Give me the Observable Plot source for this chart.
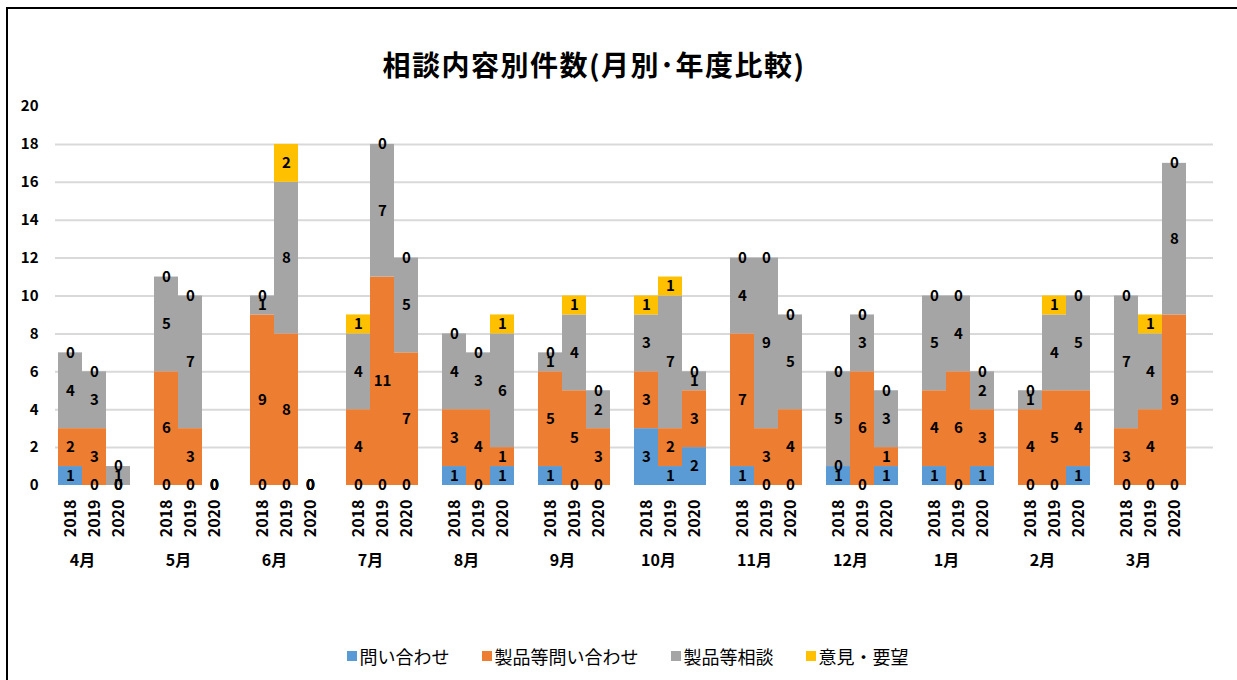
<!DOCTYPE html>
<html><head><meta charset="utf-8">
<script src="https://cdn.jsdelivr.net/npm/d3@7"></script>
<script src="https://cdn.jsdelivr.net/npm/@observablehq/plot@0.6"></script>
<style>
body{margin:0;background:#fff;}
#wrap{position:relative;width:1237px;height:680px;overflow:hidden;font-family:"Noto Sans CJK JP","Noto Sans",sans-serif;background:#fff;}
#frame{position:absolute;left:6px;top:7px;width:1300px;height:800px;border-left:2px solid #000;border-top:2px solid #000;pointer-events:none;}
#title{height:90px;box-sizing:border-box;padding-top:46px;width:1188px;text-align:center;font-size:28px;line-height:36px;font-weight:bold;letter-spacing:1.5px;color:#000;}
#chart svg{display:block;}
#legend{height:90px;box-sizing:border-box;padding-top:42px;width:1255px;display:flex;justify-content:center;align-items:center;font-size:18px;line-height:22px;color:#000;}
.item{display:flex;align-items:center;margin:0 16px;}
.sw{width:10px;height:10px;margin-right:3px;}
</style>
</head><body>
<div id="wrap">
<div id="title">相談内容別件数(月別･年度比較)</div>
<div id="chart"></div>
<div id="legend"></div>
<div id="frame"></div>
</div>
<script>
const months = ["4月","5月","6月","7月","8月","9月","10月","11月","12月","1月","2月","3月"];
const years = ["2018","2019","2020"];
const categories = ["問い合わせ","製品等問い合わせ","製品等相談","意見・要望"];
const colors = ["#5B9BD5","#ED7D31","#A5A5A5","#FFC000"];
// values per month: [2018, 2019, 2020]
const inquiry = [
  [1,0,0],[0,0,0],[0,0,0],[0,0,0],[1,0,1],[1,0,0],
  [3,1,2],[1,0,0],[1,0,1],[1,0,1],[0,0,1],[0,0,0]];
const productInquiry = [
  [2,3,0],[6,3,0],[9,8,0],[4,11,7],[3,4,1],[5,5,3],
  [3,2,3],[7,3,4],[0,6,1],[4,6,3],[4,5,4],[3,4,9]];
const productConsult = [
  [4,3,1],[5,7,0],[1,8,0],[4,7,5],[4,3,6],[1,4,2],
  [3,7,1],[4,9,5],[5,3,3],[5,4,2],[1,4,5],[7,4,8]];
const opinion = [
  [0,0,0],[0,0,0],[0,2,0],[1,0,0],[0,0,1],[0,1,0],
  [1,1,0],[0,0,0],[0,0,0],[0,0,0],[0,1,0],[0,1,0]];
const yTicks = [0,2,4,6,8,10,12,14,16,18,20];

const series = [inquiry, productInquiry, productConsult, opinion];
const key = (m, y) => m + "|" + y;
const xDomain = months.flatMap(m => [...years.map(y => key(m, y)), key(m, "gap")]);
const data = [];
categories.forEach((c, ci) => {
  months.forEach((m, mi) => {
    years.forEach((y, yi) => {
      data.push({x: key(m, y), cat: c, value: series[ci][mi][yi]});
    });
  });
});

const plot = Plot.plot({
  width: 1237,
  height: 500,
  marginTop: 16,
  marginBottom: 105,
  marginLeft: 55,
  marginRight: 24,
  style: {fontFamily: '"Noto Sans CJK JP","Noto Sans",sans-serif', color: "#000", background: "#fff"},
  x: {type: "band", domain: xDomain, padding: 0},
  y: {domain: [0, 20]},
  color: {domain: categories, range: colors},
  marks: [
    Plot.gridY({ticks: yTicks.filter(t => t > 0 && t < 20), stroke: "#d9d9d9", strokeOpacity: 1, strokeWidth: 2}),
    Plot.barY(data, {x: "x", y: "value", fill: "cat", z: "cat", order: categories, inset: 0}),
    Plot.text(data, Plot.stackY({x: "x", y: "value", z: "cat", order: categories, text: d => String(d.value), fontSize: 15, fontWeight: "bold", fill: "#000"})),
    Plot.axisY({ticks: yTicks, tickSize: 0, tickPadding: 17, fontSize: 15, fontWeight: "bold", label: null}),
    Plot.axisX({ticks: xDomain.filter(k => !k.endsWith("gap")), tickFormat: k => k.split("|")[1], tickSize: 0, tickPadding: 14, tickRotate: -90, fontSize: 16, fontWeight: "bold", label: null}),
    Plot.text(months, {x: m => key(m, "2019"), text: m => m, frameAnchor: "bottom", dx: -12, dy: 80, fontSize: 16, fontWeight: "bold", fill: "#000"})
  ]
});
document.getElementById("chart").appendChild(plot);

const legend = document.getElementById("legend");
categories.forEach((c, i) => {
  const it = document.createElement("div");
  it.className = "item";
  const sw = document.createElement("div");
  sw.className = "sw";
  sw.style.background = colors[i];
  const t = document.createElement("span");
  t.textContent = c;
  it.appendChild(sw); it.appendChild(t);
  legend.appendChild(it);
});
</script>
</body></html>
